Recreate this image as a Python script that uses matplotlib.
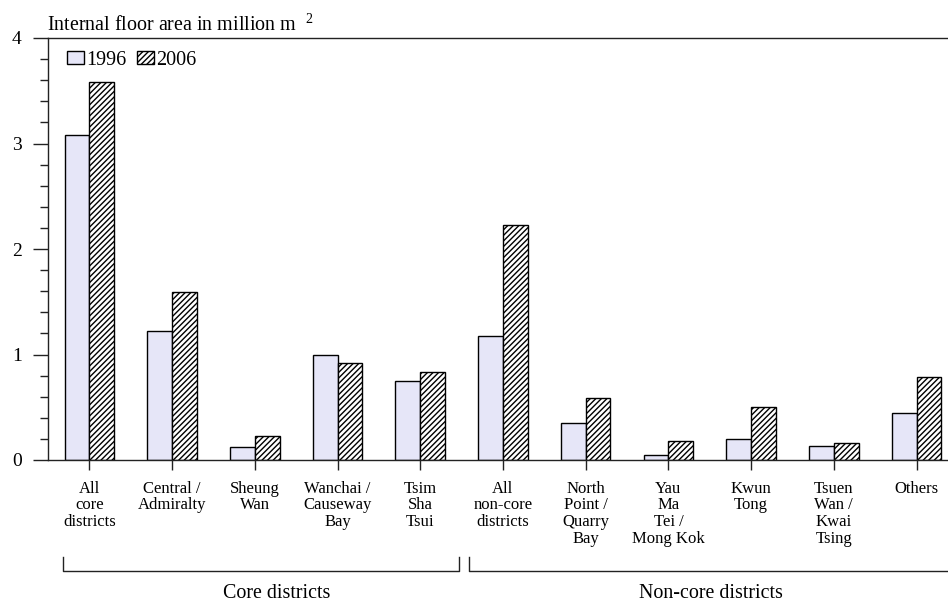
import matplotlib
matplotlib.use("Agg")
import matplotlib.pyplot as plt
import matplotlib.transforms as mtransforms
import numpy as np

plt.rcParams['font.family'] = ['Liberation Serif', 'DejaVu Serif']
plt.rcParams['mathtext.fontset'] = 'custom'
plt.rcParams['mathtext.rm'] = 'Liberation Serif'
plt.rcParams['hatch.linewidth'] = 1.0

categories = ["All\ncore\ndistricts", "Central /\nAdmiralty", "Sheung\nWan",
              "Wanchai /\nCauseway\nBay", "Tsim\nSha\nTsui", "All\nnon-core\ndistricts",
              "North\nPoint /\nQuarry\nBay", "Yau\nMa\nTei /\nMong Kok", "Kwun\nTong",
              "Tsuen\nWan /\nKwai\nTsing", "Others"]
values_1996 = [3.08, 1.22, 0.12, 1.00, 0.75, 1.18, 0.35, 0.05, 0.20, 0.135, 0.45]
values_2006 = [3.58, 1.59, 0.23, 0.92, 0.83, 2.23, 0.59, 0.18, 0.50, 0.165, 0.79]
series_labels = ["1996", "2006"]
y_ticks = [0, 1, 2, 3, 4]
group_labels = ["Core districts", "Non-core districts"]

fig = plt.figure(figsize=(9.48, 6.01), dpi=100)
ax = fig.add_axes([48/948, 1-460/601, 1-48/948, 422/601])

x = np.arange(len(categories))
w = 0.30
b1 = ax.bar(x - w/2, values_1996, w, color='#E6E6F8', edgecolor='black',
            linewidth=1.0, label=series_labels[0])
b2 = ax.bar(x + w/2, values_2006, w, color='white', edgecolor='black',
            linewidth=1.0, hatch='//////', label=series_labels[1])

ax.set_xlim(-0.5, 10.38)
ax.set_ylim(0, 4)
ax.set_yticks(y_ticks)
ax.set_yticklabels([str(t) for t in y_ticks], fontsize=14)
ax.set_yticks(np.arange(0, 4.01, 0.2), minor=True)
ax.tick_params(axis='y', which='major', direction='out', length=11, width=1.0, pad=8, colors='#222222', labelcolor='black')
ax.tick_params(axis='y', which='minor', direction='out', length=5.5, width=1.0, colors='#222222')
ax.set_xticks(x)
ax.set_xticklabels(categories, fontsize=12, linespacing=1.05)
ax.tick_params(axis='x', which='major', direction='out', length=7, width=1.0, pad=8, colors='#222222', labelcolor='black')
for s in ['left', 'bottom', 'top']:
    ax.spines[s].set_linewidth(1.0)
    ax.spines[s].set_color('#222222')
ax.spines['right'].set_visible(False)

leg = ax.legend(loc='upper left', bbox_to_anchor=(0.009, 0.996), frameon=False, ncol=2,
                fontsize=14.5, handlelength=0.85, handleheight=0.6, handletextpad=0.1,
                columnspacing=0.5, borderaxespad=0.15)

fig.text(47/948, 1-31/601, 'Internal floor area in million m  $\\mathregular{^{2}}$',
         fontsize=14.4, ha='left', va='baseline')

trans = mtransforms.blended_transform_factory(ax.transData, fig.transFigure)
y_top = 1 - 557/601
y_bot = 1 - 571/601
for (x0, x1) in [(-0.32, 4.47), (4.59, 10.6)]:
    ax.plot([x0, x0, x1, x1], [y_top, y_bot, y_bot, y_top], transform=trans,
            color='#222222', linewidth=1.0, clip_on=False)
ax.text(2.27, 1-593/601, group_labels[0], transform=trans, ha='center', va='center', fontsize=14.4)
ax.text(7.51, 1-593/601, group_labels[1], transform=trans, ha='center', va='center', fontsize=14.4)

fig.savefig('out.png', dpi=100)
